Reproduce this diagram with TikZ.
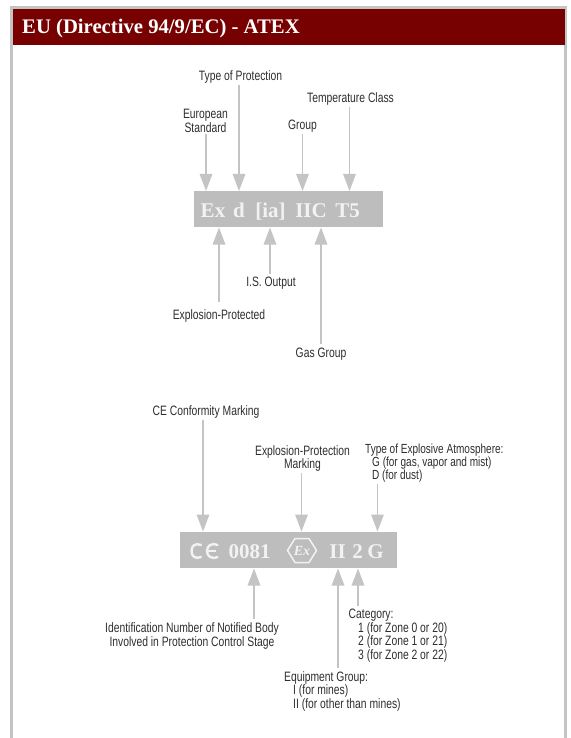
\documentclass[tikz,border=0pt]{standalone}
\usepackage{fontspec}
\setmainfont{Liberation Serif}
\newfontfamily\lblfont[FakeStretch=0.76]{Liberation Sans}
\usetikzlibrary{arrows.meta}
\definecolor{framegray}{HTML}{C4C4C4}
\definecolor{barred}{HTML}{770000}
\definecolor{boxgray}{HTML}{BDBDBD}
\definecolor{codewhite}{HTML}{F2F2F2}
\definecolor{lblgray}{HTML}{2E2E2E}
\tikzset{
  x=1pt,y=-1pt,
  lbl/.style={font=\lblfont\fontsize{13.6}{13.6}\selectfont,text=lblgray,inner sep=0pt,align=center,yshift=-1.5pt},
  lbll/.style={lbl,align=left,anchor=north west},
  code/.style={font=\fontsize{21}{21}\selectfont\bfseries,text=codewhite,inner sep=0pt,anchor=base},
  codebox/.style={fill=boxgray,draw=none,inner sep=0pt,anchor=north west},
  arr/.style={draw=framegray,line width=1.5pt,-{Triangle[length=17pt,width=12.5pt,fill=framegray]}},
}
\begin{document}
\begin{tikzpicture}
\useasboundingbox (0,0) rectangle (570,738);
\fill[white] (0,0) rectangle (570,738);
% frame
\draw[framegray,line width=2.6pt] (11.7,738) -- (11.7,7.3) -- (565.3,7.3) -- (565.3,738);
\node[fill=barred,anchor=north west,inner sep=0pt,minimum width=552pt,minimum height=36pt] (bar) at (13,8.5) {};
\node[font=\fontsize{20.7}{20.7}\selectfont\bfseries,text=white,anchor=base west,inner sep=0pt] (title) at (22,33.5) {EU (Directive 94/9/EC) - ATEX};

% upper code box
\node[codebox,minimum width=189pt,minimum height=36pt] (boxa) at (194,191) {};
\node[code] (ex) at (213,217.5) {Ex};
\node[code] (d) at (239,217.5) {d};
\node[code] (ia) at (270.5,217.5) {[ia]};
\node[code] (iic) at (311,217.5) {IIC};
\node[code] (t5) at (347.5,217.5) {T5};

% upper labels
\node[lbl] (tp) at (240.5,75.5) {Type of Protection};
\node[lbl] (es) at (205.5,119.5) {European\\Standard};
\node[lbl] (gr) at (302.5,124.5) {Group};
\node[lbl] (tc) at (350.5,97.5) {Temperature Class};
\node[lbl] (is) at (271,282) {I.S. Output};
\node[lbl] (ep) at (219,314) {Explosion-Protected};
\node[lbl] (gg) at (321,352.5) {Gas Group};

\coordinate (ua) at (206,191);
\coordinate (ub) at (239,191);
\coordinate (uc) at (302.5,191);
\coordinate (ud) at (349.5,191);
\coordinate (la) at (219,227.5);
\coordinate (lb) at (270,227.5);
\coordinate (lc) at (321,227.5);
\draw[arr] (es.south -| ua) ++(0,1) -- (ua);
\draw[arr] (tp.south -| ub) ++(0,1.5) -- (ub);
\draw[arr] (gr.south -| uc) ++(0,1.5) -- (uc);
\draw[arr] (tc.south -| ud) ++(0,1.5) -- (ud);
\draw[arr] (ep.north -| la) ++(0,-7) -- (la);
\draw[arr] (is.north -| lb) ++(0,-3) -- (lb);
\draw[arr] (gg.north -| lc) ++(0,-3.5) -- (lc);

% lower code box
\node[codebox,minimum width=217pt,minimum height=36pt] (boxb) at (180,532) {};
\draw[codewhite,line width=2.4pt,line cap=round] (201,545) .. controls (195,542.5) and (191.5,546) .. (191.5,551) .. controls (191.5,556) and (195,559.5) .. (201,557);
\draw[codewhite,line width=2.4pt,line cap=round] (217.5,545) .. controls (211,542.5) and (207,546) .. (207,551) .. controls (207,556) and (211,559.5) .. (217.5,557);
\draw[codewhite,line width=1.6pt] (207.5,551) -- (216,551);
\node[code] (num) at (249.5,558.5) {0081};
\draw[codewhite,line width=1.5pt] (287.5,550.5) -- (295,538.5) -- (309,538.5) -- (316.5,550.5) -- (309,562.5) -- (295,562.5) -- cycle;
\node[font=\fontsize{14}{14}\selectfont\bfseries\itshape,text=codewhite,inner sep=0pt] (exs) at (302,550.5) {Ex};
\node[code] (ii) at (337.5,558.5) {II};
\node[code] (two) at (357.5,558.5) {2};
\node[code] (g) at (375.5,558.5) {G};

% lower labels
\node[lbl] (ce) at (206,410.5) {CE Conformity Marking};
\node[lbl] (xm) at (302.5,457) {Explosion-Protection\\Marking};
\node[lbll,font=\lblfont\fontsize{13.2}{13.2}\selectfont] (ta) at (365,442) {Type of Explosive Atmosphere:\\\hspace*{7pt}G (for gas, vapor and mist)\\\hspace*{7pt}D (for dust)};
\node[lbl] (idn) at (192,634.5) {Identification Number of Notified Body\\Involved in Protection Control Stage};
\node[lbll] (cat) at (348.5,607.5) {Category:\\\hspace*{9.5pt}1 (for Zone 0 or 20)\\\hspace*{9.5pt}2 (for Zone 1 or 21)\\\hspace*{9.5pt}3 (for Zone 2 or 22)};
\node[lbll] (eq) at (284,669.5) {Equipment Group:\\\hspace*{9pt}I (for mines)\\\hspace*{9pt}II (for other than mines)};

\coordinate (va) at (203,531.5);
\coordinate (vb) at (301.5,531.5);
\coordinate (vc) at (377.5,531.5);
\coordinate (wa) at (254,568.5);
\coordinate (wb) at (338,568.5);
\coordinate (wc) at (358,568.5);
\draw[arr] (ce.south -| va) ++(0,1) -- (va);
\draw[arr] (xm.south -| vb) ++(0,1) -- (vb);
\draw[arr] (ta.south -| vc) ++(0,1) -- (vc);
\draw[arr] (idn.north -| wa) ++(0,-4) -- (wa);
\draw[arr] (eq.north -| wb) ++(0,-3.5) -- (wb);
\draw[arr] (cat.north -| wc) ++(0,-3.5) -- (wc);
\end{tikzpicture}
\end{document}
